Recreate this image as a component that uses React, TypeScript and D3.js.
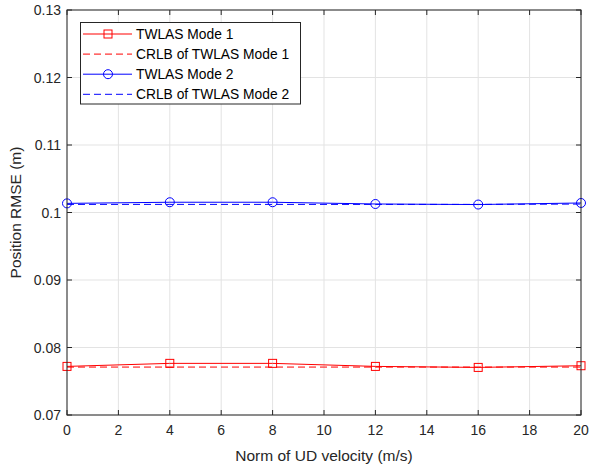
import React from "react";
import * as d3 from "d3";

const velocities = [0, 4, 8, 12, 16, 20];
const mode1 = [0.0772, 0.07765, 0.07765, 0.0772, 0.07705, 0.0773];
const crlb1 = [0.0771, 0.0771, 0.0771, 0.0771, 0.0771, 0.0771];
const mode2 = [0.10135, 0.10152, 0.10152, 0.10126, 0.10118, 0.10141];
const crlb2 = [0.1012, 0.1012, 0.1012, 0.1012, 0.1012, 0.10125];
const xTicks = [0, 2, 4, 6, 8, 10, 12, 14, 16, 18, 20];
const yTicks = [0.07, 0.08, 0.09, 0.1, 0.11, 0.12, 0.13];
const legendLabels = ["TWLAS Mode 1", "CRLB of TWLAS Mode 1", "TWLAS Mode 2", "CRLB of TWLAS Mode 2"];

const W = 590, H = 468;
const L = 67, R = 581, T = 10, B = 415;
const FONT = "Liberation Sans, Arial, Helvetica, sans-serif";
const AX = "#262626";

export default function App() {
  const x = d3.scaleLinear().domain([0, 20]).range([L, R]);
  const y = d3.scaleLinear().domain([0.07, 0.13]).range([B, T]);
  const line = d3.line<number>().x((_, i) => x(velocities[i])).y((d) => y(d));
  const fmtY = (v: number) => (Math.abs(v - 0.1) < 1e-9 ? "0.1" : d3.format(".2f")(v));

  const legendRows = [
    { label: legendLabels[0], color: "#ff0000", dash: "", marker: "square" },
    { label: legendLabels[1], color: "#ff0000", dash: "7,4", marker: "" },
    { label: legendLabels[2], color: "#0000ff", dash: "", marker: "circle" },
    { label: legendLabels[3], color: "#0000ff", dash: "7,4", marker: "" },
  ];

  return (
    <svg width={W} height={H} style={{ position: "absolute", left: 0, top: 0, background: "#fff" }}>
      <rect x={0} y={0} width={W} height={H} fill="#fff" />
      {xTicks.map((t) => (
        <line key={"gx" + t} x1={x(t)} x2={x(t)} y1={T} y2={B} stroke="#e3e3e3" strokeWidth={1} />
      ))}
      {yTicks.map((t) => (
        <line key={"gy" + t} x1={L} x2={R} y1={y(t)} y2={y(t)} stroke="#e3e3e3" strokeWidth={1} />
      ))}
      <path d={line(crlb1) || ""} fill="none" stroke="#ff0000" strokeWidth={1} strokeDasharray="7,4" />
      <path d={line(mode1) || ""} fill="none" stroke="#ff0000" strokeWidth={1} />
      {mode1.map((v, i) => (
        <rect key={"m1" + i} x={x(velocities[i]) - 4} y={y(v) - 4} width={8} height={8} fill="none" stroke="#ff0000" strokeWidth={1} />
      ))}
      <path d={line(crlb2) || ""} fill="none" stroke="#0000ff" strokeWidth={1} strokeDasharray="7,4" />
      <path d={line(mode2) || ""} fill="none" stroke="#0000ff" strokeWidth={1} />
      {mode2.map((v, i) => (
        <circle key={"m2" + i} cx={x(velocities[i])} cy={y(v)} r={4.5} fill="none" stroke="#0000ff" strokeWidth={1} />
      ))}
      <rect x={L} y={T} width={R - L} height={B - T} fill="none" stroke={AX} strokeWidth={1} />
      {xTicks.map((t) => (
        <g key={"tx" + t}>
          <line x1={x(t)} x2={x(t)} y1={B} y2={B - 5} stroke={AX} />
          <line x1={x(t)} x2={x(t)} y1={T} y2={T + 5} stroke={AX} />
          <text x={x(t)} y={B + 20} textAnchor="middle" fontFamily={FONT} fontSize={14} fill={AX}>{t}</text>
        </g>
      ))}
      {yTicks.map((t) => (
        <g key={"ty" + t}>
          <line x1={L} x2={L + 5} y1={y(t)} y2={y(t)} stroke={AX} />
          <line x1={R} x2={R - 5} y1={y(t)} y2={y(t)} stroke={AX} />
          <text x={L - 6} y={y(t) + 5} textAnchor="end" fontFamily={FONT} fontSize={14} fill={AX}>{fmtY(t)}</text>
        </g>
      ))}
      <text x={(L + R) / 2} y={B + 46} textAnchor="middle" fontFamily={FONT} fontSize={15.5} fill={AX}>Norm of UD velocity (m/s)</text>
      <text transform={`translate(21, ${(T + B) / 2}) rotate(-90)`} textAnchor="middle" fontFamily={FONT} fontSize={15.5} fill={AX}>Position RMSE (m)</text>
      <rect x={80.5} y={22.5} width={220} height={81.5} fill="#fff" stroke={AX} strokeWidth={1} />
      {legendRows.map((r, i) => {
        const ly = 34 + i * 20.1;
        return (
          <g key={"lg" + i}>
            <line x1={83} x2={132} y1={ly} y2={ly} stroke={r.color} strokeWidth={1} strokeDasharray={r.dash} />
            {r.marker === "square" && <rect x={104} y={ly - 4} width={8} height={8} fill="none" stroke={r.color} />}
            {r.marker === "circle" && <circle cx={108} cy={ly} r={4.5} fill="none" stroke={r.color} />}
            <text x={136} y={ly + 5} fontFamily={FONT} fontSize={13.8} fill="#000">{r.label}</text>
          </g>
        );
      })}
    </svg>
  );
}
